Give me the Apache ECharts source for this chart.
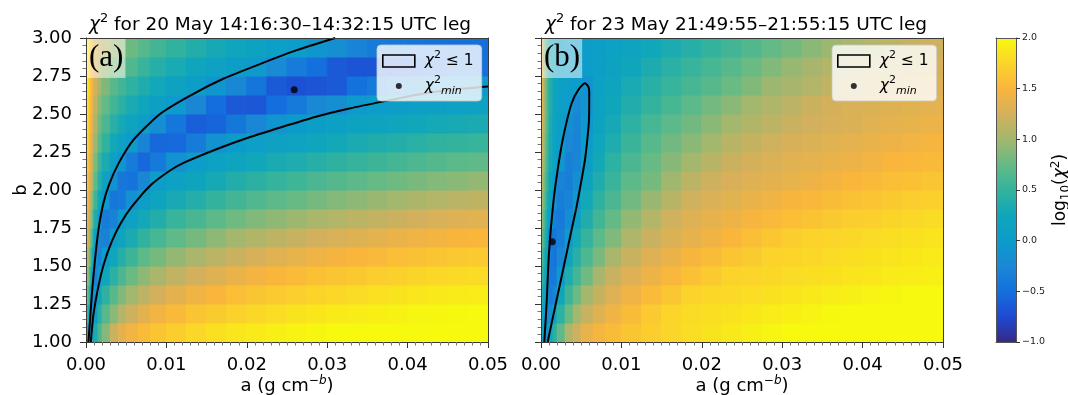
<!DOCTYPE html>
<html><head><meta charset="utf-8">
<script src="https://cdn.jsdelivr.net/npm/echarts@6/dist/echarts.min.js"></script>
<style>html,body{margin:0;padding:0;background:#fff}#c{width:1068px;height:395px}</style>
</head><body><div id="c"></div><script>
// ---- grid of a (g cm^-b) cell edges and b cell edges ----
const aEdges = [0,0.00025,0.0005,0.00075,0.001,0.0015,0.002,0.003,0.004,0.005,0.0065,0.008,0.01,0.0125,0.015,0.0175,0.02,0.0225,0.025,0.0275,0.03,0.0325,0.035,0.0375,0.04,0.0425,0.045,0.0475,0.05];
const bEdges = [1.0,1.125,1.25,1.375,1.5,1.625,1.75,1.875,2.0,2.125,2.25,2.375,2.5,2.625,2.75,2.875,3.0];

// ---- log10(chi^2), panel (a): one row per b cell (bottom to top), columns follow aEdges ----
const chiA = [
[0.4,0.05,-0.08,0.15,0.35,0.62,0.88,1.2,1.35,1.45,1.55,1.62,1.7,1.78,1.83,1.87,1.9,1.93,1.96,1.98,2.0,2.0,2.0,2.0,2.0,2.0,2.0,2.0],
[0.7,0.35,-0.05,-0.09,0.1,0.42,0.68,0.9,1.08,1.22,1.35,1.45,1.54,1.62,1.68,1.73,1.78,1.81,1.85,1.88,1.9,1.92,1.94,1.95,1.97,1.98,1.99,2.0],
[0.95,0.65,0.15,-0.24,-0.1,0.2,0.47,0.68,0.85,1.0,1.13,1.25,1.35,1.44,1.5,1.57,1.63,1.67,1.71,1.75,1.78,1.8,1.83,1.85,1.87,1.89,1.9,1.91],
[1.15,0.9,0.45,0.08,-0.3,0.0,0.24,0.45,0.62,0.77,0.92,1.03,1.15,1.24,1.32,1.4,1.46,1.51,1.55,1.6,1.63,1.66,1.69,1.72,1.75,1.77,1.79,1.8],
[1.3,1.05,0.7,0.3,-0.1,-0.3,0.02,0.24,0.4,0.55,0.7,0.82,0.94,1.03,1.12,1.2,1.27,1.33,1.38,1.43,1.47,1.5,1.53,1.57,1.6,1.63,1.65,1.67],
[1.45,1.2,0.9,0.55,0.1,-0.27,-0.31,0.02,0.18,0.33,0.48,0.6,0.72,0.82,0.91,1.0,1.07,1.13,1.18,1.24,1.28,1.32,1.36,1.4,1.43,1.46,1.49,1.51],
[1.55,1.3,1.05,0.75,0.35,0.03,-0.37,-0.31,0.0,0.13,0.27,0.39,0.52,0.61,0.7,0.79,0.86,0.92,0.97,1.03,1.08,1.12,1.16,1.2,1.24,1.28,1.31,1.33],
[1.65,1.4,1.15,0.9,0.55,0.22,-0.05,-0.43,-0.4,-0.14,0.06,0.18,0.31,0.4,0.5,0.58,0.65,0.71,0.76,0.82,0.87,0.91,0.96,1.0,1.04,1.08,1.11,1.14],
[1.75,1.5,1.28,1.05,0.72,0.4,0.15,-0.14,-0.43,-0.46,-0.26,0.02,0.12,0.2,0.3,0.38,0.45,0.51,0.56,0.62,0.67,0.71,0.75,0.79,0.83,0.87,0.9,0.93],
[1.82,1.58,1.38,1.15,0.85,0.55,0.33,0.1,-0.08,-0.37,-0.55,-0.4,-0.13,0.02,0.12,0.19,0.26,0.32,0.36,0.42,0.47,0.51,0.55,0.59,0.63,0.67,0.7,0.72],
[1.9,1.65,1.45,1.25,0.97,0.68,0.48,0.28,0.12,-0.03,-0.29,-0.55,-0.54,-0.37,-0.12,0.0,0.07,0.13,0.17,0.23,0.28,0.33,0.37,0.4,0.44,0.48,0.5,0.52],
[1.95,1.7,1.5,1.32,1.07,0.8,0.62,0.43,0.3,0.17,0.05,-0.16,-0.44,-0.61,-0.57,-0.43,-0.27,-0.09,0.0,0.06,0.1,0.15,0.19,0.22,0.26,0.29,0.31,0.33],
[2.0,1.75,1.55,1.38,1.15,0.9,0.74,0.57,0.45,0.33,0.22,0.1,-0.03,-0.26,-0.51,-0.65,-0.66,-0.51,-0.4,-0.25,-0.17,-0.03,0.02,0.05,0.08,0.1,0.12,0.14],
[2.0,1.8,1.6,1.43,1.22,1.02,0.85,0.69,0.58,0.47,0.37,0.27,0.16,0.05,-0.07,-0.26,-0.45,-0.64,-0.7,-0.68,-0.64,-0.48,-0.4,-0.3,-0.21,-0.13,-0.09,-0.05],
[2.0,1.82,1.62,1.47,1.28,1.1,0.95,0.85,0.76,0.65,0.52,0.42,0.32,0.22,0.13,0.05,-0.03,-0.23,-0.37,-0.5,-0.64,-0.67,-0.67,-0.66,-0.63,-0.57,-0.52,-0.5],
[2.0,1.85,1.65,1.5,1.32,1.18,1.08,0.97,0.9,0.78,0.68,0.58,0.48,0.38,0.3,0.22,0.15,0.07,0.02,-0.06,-0.17,-0.3,-0.38,-0.42,-0.46,-0.48,-0.5,-0.5]
];

// ---- log10(chi^2), panel (b) ----
const chiB = [
[0.2,0.08,-0.15,-0.12,0.22,0.43,0.72,1.05,1.22,1.38,1.48,1.56,1.63,1.7,1.76,1.81,1.85,1.89,1.93,1.97,2.0,2.0,2.0,2.0,2.0,2.0,2.0,2.0],
[0.3,0.12,-0.02,-0.25,-0.15,0.14,0.46,0.75,1.0,1.18,1.32,1.44,1.56,1.67,1.76,1.8,1.82,1.85,1.88,1.91,1.94,1.96,1.99,2.0,2.0,2.0,2.0,2.0],
[0.45,0.25,0.08,-0.1,-0.38,-0.3,0.25,0.55,0.77,1.0,1.17,1.31,1.43,1.55,1.64,1.74,1.77,1.79,1.81,1.84,1.86,1.89,1.91,1.93,1.96,1.98,2.0,2.0],
[0.6,0.38,0.18,0.0,-0.4,-0.42,-0.05,0.36,0.58,0.79,1.02,1.2,1.31,1.42,1.52,1.6,1.67,1.74,1.76,1.78,1.8,1.82,1.84,1.86,1.88,1.9,1.92,1.94],
[0.75,0.5,0.28,0.08,-0.38,-0.45,-0.25,0.18,0.43,0.63,0.83,1.03,1.19,1.31,1.4,1.49,1.56,1.62,1.68,1.74,1.76,1.78,1.8,1.82,1.84,1.86,1.88,1.9],
[0.9,0.62,0.38,0.15,-0.48,-0.45,-0.35,-0.03,0.29,0.51,0.7,0.86,1.05,1.2,1.3,1.37,1.44,1.51,1.58,1.64,1.7,1.74,1.76,1.78,1.8,1.82,1.84,1.86],
[1.02,0.75,0.48,0.25,0.02,-0.35,-0.4,-0.2,0.1,0.37,0.57,0.74,0.93,1.08,1.23,1.31,1.37,1.42,1.48,1.53,1.58,1.61,1.65,1.69,1.72,1.75,1.78,1.8],
[1.12,0.85,0.58,0.35,0.12,-0.1,-0.35,-0.3,-0.03,0.28,0.47,0.62,0.8,0.96,1.1,1.23,1.29,1.34,1.39,1.44,1.49,1.52,1.56,1.59,1.62,1.66,1.69,1.72],
[1.2,0.95,0.68,0.45,0.22,0.02,-0.3,-0.35,-0.15,0.16,0.37,0.53,0.71,0.82,0.99,1.12,1.22,1.27,1.31,1.35,1.38,1.42,1.46,1.51,1.54,1.57,1.6,1.63],
[1.28,1.02,0.76,0.52,0.3,0.12,-0.05,-0.32,-0.28,0.04,0.28,0.46,0.62,0.76,0.89,1.0,1.1,1.2,1.26,1.3,1.33,1.36,1.39,1.42,1.45,1.5,1.52,1.54],
[1.35,1.08,0.8,0.56,0.32,0.15,0.02,-0.25,-0.3,0.0,0.22,0.36,0.53,0.68,0.8,0.9,1.0,1.1,1.17,1.23,1.27,1.3,1.33,1.36,1.39,1.42,1.45,1.48],
[1.42,1.12,0.85,0.6,0.35,0.18,0.06,-0.15,-0.28,-0.05,0.16,0.3,0.46,0.6,0.7,0.8,0.9,1.0,1.07,1.13,1.19,1.24,1.27,1.3,1.33,1.36,1.38,1.41],
[1.48,1.15,0.88,0.62,0.38,0.2,0.08,0.02,-0.22,-0.1,0.12,0.24,0.38,0.5,0.6,0.7,0.81,0.9,1.0,1.06,1.13,1.2,1.25,1.28,1.3,1.32,1.34,1.36],
[1.5,1.15,0.88,0.62,0.38,0.2,0.1,0.05,0.02,-0.12,0.12,0.2,0.32,0.43,0.52,0.6,0.68,0.77,0.86,0.97,1.02,1.08,1.15,1.2,1.26,1.28,1.3,1.32],
[1.5,1.12,0.8,0.55,0.32,0.17,0.08,0.04,0.03,0.04,0.08,0.15,0.25,0.35,0.44,0.52,0.6,0.68,0.77,0.86,0.95,1.02,1.08,1.13,1.17,1.21,1.24,1.27],
[1.5,1.05,0.7,0.45,0.27,0.14,0.07,0.04,0.03,0.04,0.07,0.12,0.18,0.26,0.34,0.42,0.5,0.58,0.66,0.74,0.82,0.9,0.97,1.03,1.08,1.13,1.18,1.22]
];

// ---- chi^2 <= 1 contours, [a, b] ----
const contourAUpper = [[0.0003,1.0],[0.0005,1.14],[0.00075,1.33],[0.0011,1.53],[0.0015,1.72],[0.0021,1.90],[0.0029,2.04],[0.0041,2.18],[0.0059,2.33],[0.0092,2.50],[0.0129,2.62],[0.0172,2.735],[0.0217,2.83],[0.0262,2.92],[0.0310,3.0]];
const contourALower = [[0.0006,1.0],[0.0009,1.17],[0.0014,1.33],[0.0022,1.51],[0.0032,1.66],[0.0043,1.78],[0.0057,1.89],[0.008,2.03],[0.0105,2.13],[0.0122,2.18],[0.0163,2.27],[0.0205,2.35],[0.0246,2.418],[0.0287,2.484],[0.0329,2.538],[0.037,2.583],[0.0412,2.627],[0.0454,2.659],[0.05,2.681]];
const contourB = [[0.00041,1.0],[0.0007,1.256],[0.00099,1.585],[0.00153,1.914],[0.00207,2.133],[0.00278,2.352],[0.00381,2.571],[0.00464,2.659],[0.00547,2.703],[0.00588,2.681],[0.006,2.648],[0.00597,2.462],[0.0058,2.352],[0.00547,2.199],[0.00497,2.045],[0.00443,1.892],[0.00381,1.74],[0.00319,1.585],[0.00257,1.432],[0.00195,1.279],[0.00133,1.126],[0.00083,1.0]];
const minA = [[0.0259, 2.66]];
const minB = [[0.0014, 1.66]];

// ---- axes ranges / ticks ----
const aRange = [0, 0.05], aStep = 0.01;
const bRange = [1, 3], bStep = 0.25;
const cbarRange = [-1, 2], cbarStep = 0.5;
const titles = ['20 May 14:16:30–14:32:15 UTC leg', '23 May 21:49:55–21:55:15 UTC leg'];
const panelLabels = ['(a)', '(b)'];
const NAME_C = 'χ² ≤ 1', NAME_M = 'χ²min';

const cmap = ['#352a87','#1f49d3','#1470dd','#1a88d5','#0c9ccb','#0fa6bb','#33b39d','#65ba85','#a3b76d','#d4b05c','#f9b53c','#fbd42a','#f7f90f'];
const FONT = 'DejaVu Sans';

function buildCells(grid) {
  const out = [];
  for (let j = 0; j < grid.length; j++)
    for (let i = 0; i < grid[j].length; i++)
      out.push([aEdges[i], aEdges[i + 1], bEdges[j], bEdges[j + 1], grid[j][i]]);
  return out;
}
function renderCell(params, api) {
  const tl = api.coord([api.value(0), api.value(3)]);
  const br = api.coord([api.value(1), api.value(2)]);
  const c = api.visual('color');
  return {type: 'rect', shape: {x: tl[0], y: tl[1], width: br[0] - tl[0], height: br[1] - tl[1]},
          style: {fill: c, stroke: c, lineWidth: 1}};
}
function renderCbar(params, api) {
  const tl = api.coord([0, api.value(1)]);
  const br = api.coord([1, api.value(0)]);
  const stops = cmap.map((c, i) => ({offset: i / (cmap.length - 1), color: c}));
  return {type: 'rect', shape: {x: tl[0], y: tl[1], width: br[0] - tl[0], height: br[1] - tl[1]},
          style: {fill: new echarts.graphic.LinearGradient(0, 1, 0, 0, stops)}};
}

const richBase = (fs, lh) => ({
  t: {fontFamily: FONT, fontSize: fs, lineHeight: lh, color: '#000', fontWeight: 'normal'},
  i: {fontFamily: FONT, fontSize: fs, lineHeight: lh, color: '#000', fontStyle: 'italic', fontWeight: 'normal'},
  sup: {fontFamily: FONT, fontSize: Math.round(fs * 0.68), lineHeight: Math.round(fs * 0.75), verticalAlign: 'top', color: '#000', fontWeight: 'normal'},
  supi: {fontFamily: FONT, fontSize: Math.round(fs * 0.68), lineHeight: Math.round(fs * 0.75), verticalAlign: 'top', color: '#000', fontStyle: 'italic', fontWeight: 'normal'},
  sub: {fontFamily: FONT, fontSize: Math.round(fs * 0.68), lineHeight: Math.round(fs * 0.7), verticalAlign: 'bottom', color: '#000', fontWeight: 'normal'},
  subi: {fontFamily: FONT, fontSize: Math.round(fs * 0.68), lineHeight: Math.round(fs * 0.7), verticalAlign: 'bottom', color: '#000', fontStyle: 'italic', fontWeight: 'normal'},
  ip: {fontFamily: FONT, fontSize: fs, lineHeight: lh, color: '#000', fontStyle: 'italic', fontWeight: 'normal', padding: [0, 0, 0, 5]}
});

const gridPos = [
  {left: 86, top: 38, width: 402, height: 304},
  {left: 541, top: 38, width: 402, height: 304},
  {left: 996, top: 38, width: 20, height: 304}
];
const SPINE = '#3a3a3a';

function xAxesFor(gi) {
  return [{
    gridIndex: gi, type: 'value', min: aRange[0], max: aRange[1], interval: aStep, position: 'bottom', z: 6,
    axisLine: {show: true, onZero: false, lineStyle: {color: SPINE, width: 1}},
    axisTick: {show: true, length: 6, lineStyle: {color: '#333'}},
    minorTick: {show: true, splitNumber: 10, length: 3.5, lineStyle: {color: '#777'}},
    splitLine: {show: false},
    axisLabel: {formatter: v => v.toFixed(2), fontFamily: FONT, fontSize: 18, color: '#000', margin: 13, lineHeight: 20},
    name: '{t|a (g cm}{sup|−}{supi|b}{t|)}', nameLocation: 'middle', nameGap: 33, nameMoveOverlap: false,
    nameTextStyle: {fontFamily: FONT, fontSize: 18, color: '#000', rich: richBase(18, 22)}
  }, {
    gridIndex: gi, type: 'value', min: aRange[0], max: aRange[1], position: 'top', z: 6,
    axisLine: {show: true, onZero: false, lineStyle: {color: SPINE, width: 1}},
    axisTick: {show: false}, axisLabel: {show: false}, splitLine: {show: false}
  }];
}
function yAxesFor(gi, labels) {
  return [{
    gridIndex: gi, type: 'value', min: bRange[0], max: bRange[1], interval: bStep, position: 'left', z: 6,
    axisLine: {show: true, onZero: false, lineStyle: {color: SPINE, width: 1}},
    axisTick: {show: true, length: 6, lineStyle: {color: '#333'}},
    minorTick: {show: true, splitNumber: 5, length: 3.5, lineStyle: {color: '#777'}},
    splitLine: {show: false},
    axisLabel: {show: labels, formatter: v => v.toFixed(2), fontFamily: FONT, fontSize: 18, color: '#000', margin: 14},
    name: labels ? 'b' : '', nameLocation: 'middle', nameGap: 56, nameRotate: 90, nameMoveOverlap: false,
    nameTextStyle: {fontFamily: FONT, fontSize: 18, color: '#000'}
  }, {
    gridIndex: gi, type: 'value', min: bRange[0], max: bRange[1], position: 'right', z: 6,
    axisLine: {show: true, onZero: false, lineStyle: {color: SPINE, width: 1}},
    axisTick: {show: false}, axisLabel: {show: false}, splitLine: {show: false}
  }];
}

const dotIcon = 'path://M0,0L0.001,0M32,12L32.001,12M13,6a3,3 0 1,0 6,0a3,3 0 1,0 -6,0Z';
function legendFor(left) {
  return {
    left: left, top: 45, orient: 'vertical', selectedMode: false,
    itemWidth: 32, itemHeight: 12, itemGap: 6, padding: [5, 8, 4, 5],
    backgroundColor: 'rgba(255,255,255,0.8)', borderColor: 'rgba(200,200,200,0.8)', borderWidth: 1, borderRadius: 4,
    data: [
      {name: NAME_C, icon: 'rect', itemStyle: {color: 'rgba(0,0,0,0)', borderColor: '#000', borderWidth: 1.6}},
      {name: NAME_M, icon: dotIcon, itemStyle: {color: '#000', borderWidth: 0}}
    ],
    formatter: n => n === NAME_C ? '{ip|χ}{sup|2}{t| ≤ 1}' : '{ip|χ}{sup|2}{subi|min}',
    textStyle: {fontFamily: FONT, fontSize: 15.5, color: '#000', rich: richBase(15.5, 22)}
  };
}

const titleRich = richBase(18.5, 26);
const option = {
  animation: false,
  backgroundColor: '#ffffff',
  textStyle: {fontFamily: FONT},
  title: [
    {text: '{i|χ}{sup|2}{t| for ' + titles[0] + '}', left: 89, top: 12, padding: 0, textStyle: {fontWeight: 'normal', rich: titleRich}},
    {text: '{i|χ}{sup|2}{t| for ' + titles[1] + '}', left: 545, top: 12, padding: 0, textStyle: {fontWeight: 'normal', rich: titleRich}},
    {text: panelLabels[0], left: 86, top: 38, padding: [3, 2, 3, 3], backgroundColor: 'rgba(255,255,255,0.5)',
     textStyle: {fontFamily: 'Liberation Serif', fontSize: 31, fontWeight: 'normal', color: '#000', lineHeight: 34}},
    {text: panelLabels[1], left: 541, top: 38, padding: [3, 2, 3, 3], backgroundColor: 'rgba(255,255,255,0.5)',
     textStyle: {fontFamily: 'Liberation Serif', fontSize: 31, fontWeight: 'normal', color: '#000', lineHeight: 34}}
  ],
  legend: [legendFor(377), legendFor(832)],
  grid: gridPos.map(g => Object.assign({containLabel: false, outerBoundsMode: 'none', show: false}, g)),
  xAxis: [].concat(xAxesFor(0), xAxesFor(1), [
    {gridIndex: 2, type: 'value', min: 0, max: 1, position: 'bottom', z: 6,
     axisLine: {show: true, onZero: false, lineStyle: {color: '#555', width: 1}}, axisTick: {show: false}, axisLabel: {show: false}, splitLine: {show: false}},
    {gridIndex: 2, type: 'value', min: 0, max: 1, position: 'top', z: 6,
     axisLine: {show: true, onZero: false, lineStyle: {color: '#555', width: 1}}, axisTick: {show: false}, axisLabel: {show: false}, splitLine: {show: false}}
  ]),
  yAxis: [].concat(yAxesFor(0, true), yAxesFor(1, false), [
    {gridIndex: 2, type: 'value', min: cbarRange[0], max: cbarRange[1], interval: cbarStep, position: 'right', z: 6,
     axisLine: {show: true, onZero: false, lineStyle: {color: '#555', width: 1}},
     axisTick: {show: true, length: 4, lineStyle: {color: '#333'}},
     splitLine: {show: false},
     axisLabel: {formatter: v => v.toFixed(1).replace('-', '−'), fontFamily: FONT, fontSize: 9.5, color: '#222', margin: 6},
     name: '{t|log}{sub|10}{t|(}{i|χ}{sup|2}{t|)}', nameLocation: 'middle', nameGap: 34, nameRotate: 90, nameMoveOverlap: false,
     nameTextStyle: {fontFamily: FONT, fontSize: 17, color: '#000', rich: richBase(17, 22)}},
    {gridIndex: 2, type: 'value', min: cbarRange[0], max: cbarRange[1], position: 'left', z: 6,
     axisLine: {show: true, onZero: false, lineStyle: {color: '#555', width: 1}}, axisTick: {show: false}, axisLabel: {show: false}, splitLine: {show: false}}
  ]),
  visualMap: [{type: 'continuous', show: false, min: cbarRange[0], max: cbarRange[1], dimension: 4, seriesIndex: [0, 1],
               inRange: {color: cmap}}],
  series: [
    {type: 'custom', name: 'chiA', xAxisIndex: 0, yAxisIndex: 0, z: 1, clip: true, silent: true,
     dimensions: ['a0', 'a1', 'b0', 'b1', 'chi'], encode: {x: [0, 1], y: [2, 3]}, renderItem: renderCell, data: buildCells(chiA)},
    {type: 'custom', name: 'chiB', xAxisIndex: 2, yAxisIndex: 2, z: 1, clip: true, silent: true,
     dimensions: ['a0', 'a1', 'b0', 'b1', 'chi'], encode: {x: [0, 1], y: [2, 3]}, renderItem: renderCell, data: buildCells(chiB)},
    {type: 'custom', name: 'cbar', xAxisIndex: 4, yAxisIndex: 4, z: 1, silent: true,
     dimensions: ['lo', 'hi'], encode: {y: [0, 1]}, renderItem: renderCbar, data: [cbarRange]},
    {type: 'line', name: NAME_C, xAxisIndex: 0, yAxisIndex: 0, z: 3, symbol: 'none', smooth: 0.2, silent: true,
     lineStyle: {color: '#000', width: 2}, itemStyle: {color: '#000'}, data: contourAUpper},
    {type: 'line', name: NAME_C, xAxisIndex: 0, yAxisIndex: 0, z: 3, symbol: 'none', smooth: 0.2, silent: true,
     lineStyle: {color: '#000', width: 2}, itemStyle: {color: '#000'}, data: contourALower},
    {type: 'scatter', name: NAME_M, xAxisIndex: 0, yAxisIndex: 0, z: 4, symbolSize: 7, silent: true,
     itemStyle: {color: '#000'}, data: minA},
    {type: 'line', name: NAME_C, xAxisIndex: 2, yAxisIndex: 2, z: 3, symbol: 'none', smooth: 0.2, silent: true,
     lineStyle: {color: '#000', width: 2}, itemStyle: {color: '#000'}, data: contourB},
    {type: 'scatter', name: NAME_M, xAxisIndex: 2, yAxisIndex: 2, z: 4, symbolSize: 7, silent: true,
     itemStyle: {color: '#000'}, data: minB}
  ]
};
const chart = echarts.init(document.getElementById('c'), null, {renderer: 'canvas'});
chart.setOption(option);
</script></body></html>
